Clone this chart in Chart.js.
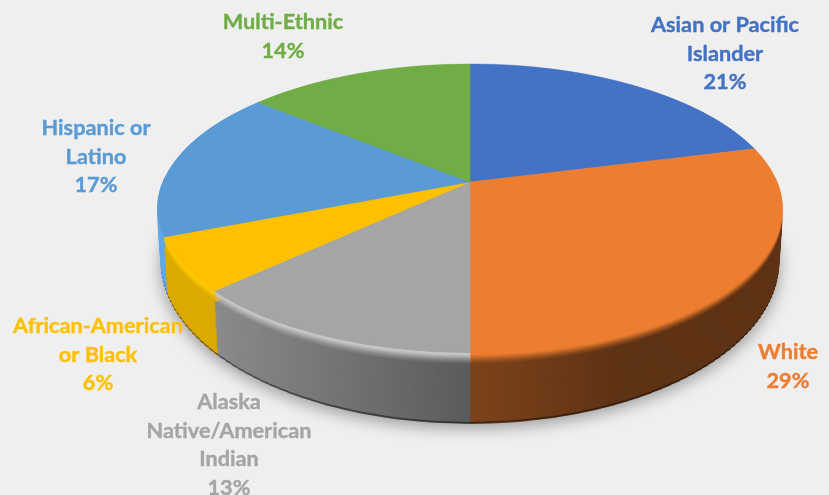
<!DOCTYPE html>
<html>
<head>
<meta charset="utf-8">
<style>
html,body{margin:0;padding:0;background:#efefef;}
canvas{display:block;filter:blur(0.7px);}
</style>
<script src="https://cdn.jsdelivr.net/npm/chart.js@4"></script>
</head>
<body>
<canvas id="c" width="829" height="495"></canvas>
<script>
const categories = ["Asian or Pacific Islander", "White", "Alaska Native/American Indian", "African-American or Black", "Hispanic or Latino", "Multi-Ethnic"];
const shares = [21, 29, 13, 6, 17, 14];
const labelLines = [["Asian or Pacific", "Islander"], ["White"], ["Alaska", "Native/American", "Indian"], ["African-American", "or Black"], ["Hispanic or", "Latino"], ["Multi-Ethnic"]];

const topColors = ["#4472c4", "#ed7d31", "#a5a5a5", "#ffc000", "#5b9bd5", "#70ad47"];
const wallColors = ["#2f5597", "#c0672a", "#8c8c8c", "#dcab00", "#5ea9ea", "#4e7a32"];
const lipColors = ["#4472c4", "#ef8033", "#c8c8c8", "#ffcb00", "#5ea9ea", "#70ad47"];
const labelAnchors = [[725, 25], [788, 352], [229, 402], [98, 326], [96, 128], [283, 22]];

// perspective view of the disc
const CX = 470, CY = 182, P = 0.182, Q = 139.5, A = 307, DEPTH = 71;

function drawSlice(ctx, arc, color) {
  const saved = arc.options;
  arc.options = Object.assign({}, saved, {backgroundColor: color, borderColor: color});
  arc.draw(ctx);
  arc.options = saved;
}

// Paint the library's arcs through a perspective camera, band by band
function paintDisc(ctx, arcs, idx, colorOf, t, yFrom, yTo, step) {
  const R = arcs[0].outerRadius, sxc = arcs[0].x, syc = arcs[0].y;
  const cy = CY + 51 * t, sY = 1 + 0.117 * t, sX = 1 - 0.012 * t;
  for (let y = yFrom; y < yTo; y += step) {
    const dy = (y + step / 2 - cy) / sY;
    const v = dy / (Q + P * dy);
    const w = 1 - P * v;
    const sx = sX * A / (w * R);
    const sy = sY * Q / (w * w * R);
    ctx.save();
    ctx.beginPath();
    ctx.rect(0, y, 829, step);
    ctx.clip();
    ctx.transform(sx, 0, 0, sy, CX - sxc * sx, (y + step / 2) - (syc + v * R) * sy);
    idx.forEach(i => drawSlice(ctx, arcs[i], colorOf(i)));
    ctx.restore();
  }
}

const perspectivePie = {
  id: 'perspectivePie',
  beforeDatasetsDraw(chart) {
    const ctx = chart.ctx;
    const arcs = chart.getDatasetMeta(0).data;
    const frontIdx = [1, 2, 3, 4];
    const all = arcs.map((_, i) => i);
    const bottomAt = t => Math.ceil(CY + 51 * t + (1 + 0.117 * t) * Q / (1 - P)) + 2;
    const topAt = t => Math.floor(CY + 51 * t) - 4;

    // side wall
    for (let d = DEPTH; d >= 12; d--) {
      const t = d / DEPTH;
      ctx.save();
      if (d > DEPTH - 2) ctx.filter = 'brightness(0.55)';
      paintDisc(ctx, arcs, frontIdx, i => wallColors[i], t, topAt(t), bottomAt(t), 4);
      ctx.restore();
    }
    // wall shading, left to right
    ctx.save();
    ctx.globalCompositeOperation = 'source-atop';
    const g = ctx.createLinearGradient(0, 0, 829, 0);
    const stop = (x, a) => g.addColorStop(x / 829, 'rgba(0,0,0,' + a + ')');
    stop(0, 0); stop(213, 0); stop(470, 0.35); stop(620, 0.51); stop(829, 0.51);
    ctx.fillStyle = g;
    ctx.fillRect(0, 0, 829, 495);
    ctx.restore();

    // lip where the top face turns into the wall
    const lipAlpha = [1, 0.9, 0.7, 0.5, 0.35, 0.25, 0.2, 0.15, 0.12, 0.1, 0.08, 0.05];
    for (let d = 11; d >= 0; d--) {
      const t = d / DEPTH;
      ctx.save();
      ctx.globalAlpha = lipAlpha[d];
      paintDisc(ctx, arcs, frontIdx, i => lipColors[i], t, topAt(t), bottomAt(t), 2);
      ctx.restore();
    }

    // top face
    paintDisc(ctx, arcs, all, i => topColors[i], 0, 60, 356, 1);

    // soft shadow beneath everything
    ctx.save();
    ctx.globalCompositeOperation = 'destination-over';
    ctx.shadowColor = 'rgba(0,0,0,0.36)';
    ctx.shadowBlur = 16;
    ctx.shadowOffsetX = 2000;
    ctx.shadowOffsetY = 5;
    ctx.fillStyle = '#000';
    ctx.beginPath();
    ctx.ellipse(470 - 2000, 262, 309, 161, 0, 0, Math.PI * 2);
    ctx.fill();
    ctx.restore();
    return false;
  },
  afterDraw(chart) {
    const ctx = chart.ctx;
    ctx.save();
    ctx.font = 'bold 21.7px Lato, "Open Sans", sans-serif';
    ctx.textAlign = 'center';
    ctx.textBaseline = 'middle';
    labelLines.forEach((lines, i) => {
      const [x, y] = labelAnchors[i];
      ctx.fillStyle = topColors[i];
      ctx.strokeStyle = topColors[i];
      ctx.lineWidth = 0.4;
      lines.concat(shares[i] + '%').forEach((s, k) => {
        ctx.fillText(s, x, y + k * 28.7);
        ctx.strokeText(s, x, y + k * 28.7);
      });
    });
    ctx.restore();
  }
};

new Chart(document.getElementById('c'), {
  type: 'pie',
  data: {
    labels: categories,
    datasets: [{data: shares, backgroundColor: topColors, borderColor: topColors, borderWidth: 0.6}]
  },
  options: {
    responsive: false,
    animation: false,
    events: [],
    layout: {padding: 0},
    plugins: {legend: {display: false}, tooltip: {enabled: false}, title: {display: false}}
  },
  plugins: [perspectivePie]
});
</script>
</body>
</html>
